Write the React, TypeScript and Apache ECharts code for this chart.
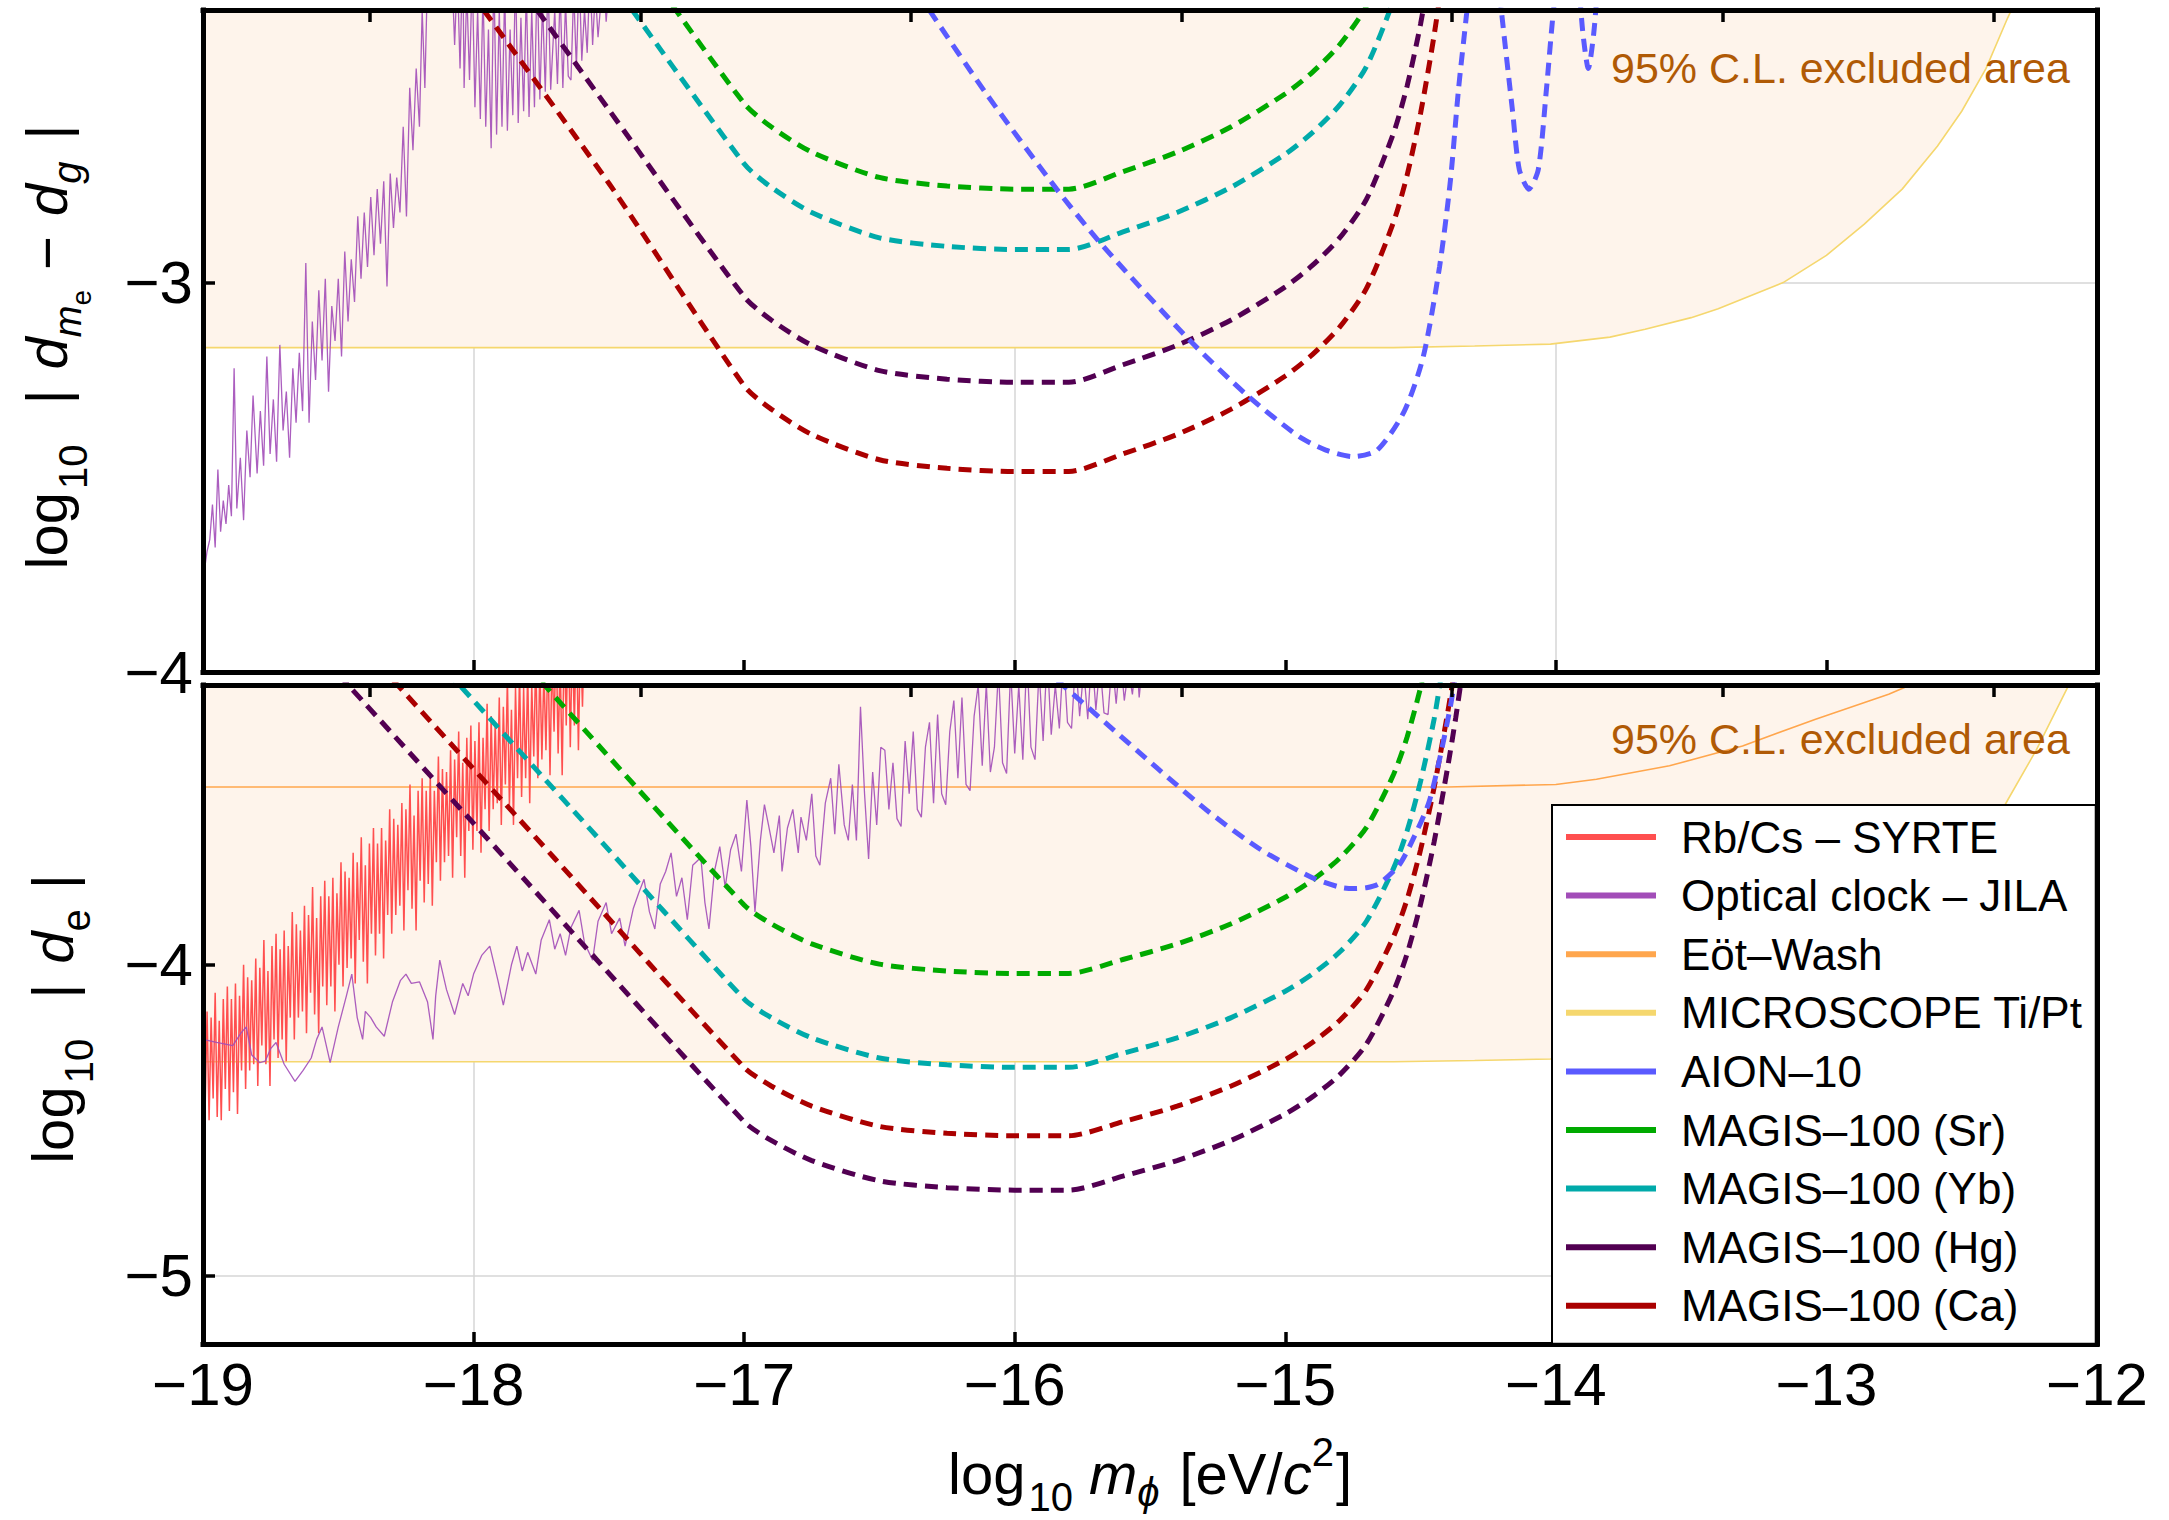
import React, { useEffect, useRef } from 'react';
import * as echarts from 'echarts';

const FONT = '"Liberation Sans", Arial, Helvetica, sans-serif';

// ---------- axes ----------
const X_RANGE: [number, number] = [-19, -12];
const TOP_Y_RANGE: [number, number] = [-4, -2.3];
const BOT_Y_RANGE: [number, number] = [-5.22, -3.1];
const TOP_Y_TICKS = [-4, -3];
const BOT_Y_TICKS = [-5, -4];
// ticks of the (unlabelled) frequency axis on the upper frame edges: integer log10 f[Hz]
const FREQ_TICKS = [-18.383, -17.383, -16.383, -15.383, -14.383, -13.383, -12.383];
const GRID_X_LINES = [-18, -16, -14];
const TOP_GRID_Y_LINES = [-3];
const BOT_GRID_Y_LINES = [-5];

// ---------- names ----------
const N_RBCS = 'Rb/Cs \u2013 SYRTE';
const N_JILA = 'Optical clock \u2013 JILA';
const N_EOT = 'E\u00f6t\u2013Wash';
const N_MIC = 'MICROSCOPE Ti/Pt';
const N_AION = 'AION\u201310';
const N_SR = 'MAGIS\u2013100 (Sr)';
const N_YB = 'MAGIS\u2013100 (Yb)';
const N_HG = 'MAGIS\u2013100 (Hg)';
const N_CA = 'MAGIS\u2013100 (Ca)';
const LEGEND_NAMES = [N_RBCS, N_JILA, N_EOT, N_MIC, N_AION, N_SR, N_YB, N_HG, N_CA];

const ANNOTATION = '95% C.L. excluded area';

// ---------- top panel data: log10 |d_me - d_g| ----------
const micTop: [number, number][] = [
  [-19, -3.167], [-14.6, -3.167], [-14.3, -3.163], [-14.02, -3.158], [-13.8, -3.14], [-13.67, -3.12],
  [-13.5, -3.09], [-13.4, -3.067], [-13.16, -3.0], [-13.0, -2.93], [-12.86, -2.85], [-12.72, -2.76],
  [-12.59, -2.65], [-12.5, -2.56], [-12.41, -2.45], [-12.33, -2.32], [-12.225, -2.165], [-12.11, -1.965], [-12.0, -1.78],
];

const jilaTop: [number, number][] = [
  [-19.00, -3.62], [-18.995, -3.74], [-18.985, -3.69], [-18.975, -3.66], [-18.965, -3.57], [-18.955, -3.68], [-18.945, -3.48],
  [-18.935, -3.64], [-18.925, -3.56], [-18.915, -3.62], [-18.905, -3.52], [-18.895, -3.60], [-18.885, -3.22], [-18.875, -3.58],
  [-18.862, -3.45], [-18.85, -3.61], [-18.838, -3.38], [-18.826, -3.50], [-18.815, -3.29], [-18.80, -3.49], [-18.788, -3.33],
  [-18.776, -3.47], [-18.764, -3.19], [-18.752, -3.44], [-18.74, -3.30], [-18.728, -3.46], [-18.716, -3.16], [-18.704, -3.38],
  [-18.692, -3.28], [-18.68, -3.45], [-18.668, -3.22], [-18.656, -3.36], [-18.644, -3.18], [-18.632, -3.33], [-18.62, -2.95],
  [-18.608, -3.36], [-18.596, -3.10], [-18.584, -3.25], [-18.572, -3.02], [-18.56, -3.20], [-18.548, -2.99], [-18.536, -3.28],
  [-18.524, -3.06], [-18.512, -3.15], [-18.50, -2.99], [-18.488, -3.19], [-18.476, -2.92], [-18.464, -3.10], [-18.452, -2.94],
  [-18.44, -3.05], [-18.428, -2.83], [-18.416, -2.99], [-18.404, -2.82], [-18.392, -2.96], [-18.38, -2.78], [-18.368, -2.93],
  [-18.356, -2.76], [-18.344, -2.90], [-18.332, -2.74], [-18.32, -3.01], [-18.308, -2.72], [-18.296, -2.86], [-18.284, -2.73],
  [-18.272, -2.82], [-18.26, -2.60], [-18.248, -2.83], [-18.236, -2.50], [-18.224, -2.66], [-18.212, -2.45], [-18.20, -2.60],
  [-18.19, -2.30], [-18.18, -2.50], [-18.17, -2.20], [-18.15, -2.10], [-18.10, -2.05], [-18.08, -2.20], [-18.07, -2.39],
  [-18.06, -2.20], [-18.05, -2.45], [-18.04, -2.15], [-18.035, -2.50], [-18.025, -2.25], [-18.015, -2.48], [-18.005, -2.20],
  [-17.995, -2.55], [-17.985, -2.30], [-17.975, -2.58], [-17.965, -2.25], [-17.955, -2.60], [-17.945, -2.35], [-17.935, -2.655],
  [-17.925, -2.20], [-17.915, -2.62], [-17.905, -2.30], [-17.895, -2.60], [-17.885, -2.25], [-17.875, -2.61], [-17.865, -2.35],
  [-17.855, -2.57], [-17.845, -2.20], [-17.835, -2.59], [-17.825, -2.32], [-17.815, -2.56], [-17.805, -2.25], [-17.795, -2.575],
  [-17.785, -2.30], [-17.775, -2.55], [-17.765, -2.20], [-17.755, -2.53], [-17.745, -2.28], [-17.735, -2.51], [-17.725, -2.22],
  [-17.715, -2.505], [-17.70, -2.30], [-17.69, -2.49], [-17.68, -2.25], [-17.67, -2.50], [-17.66, -2.28], [-17.65, -2.47],
  [-17.64, -2.48], [-17.63, -2.25], [-17.62, -2.45], [-17.61, -2.20], [-17.60, -2.43], [-17.59, -2.30], [-17.58, -2.41],
  [-17.57, -2.20], [-17.56, -2.39], [-17.55, -2.25], [-17.54, -2.37], [-17.52, -2.20], [-17.51, -2.33], [-17.49, -2.15], [-17.45, -2.10],
];

const aionTop: [number, number][] = [
  [-16.40, -2.21], [-16.316, -2.30], [-16.10, -2.52], [-15.845, -2.76], [-15.675, -2.905], [-15.355, -3.147], [-15.14, -3.29],
  [-14.95, -3.395], [-14.85, -3.43], [-14.75, -3.447], [-14.66, -3.43], [-14.56, -3.33], [-14.49, -3.19], [-14.43, -2.96],
  [-14.39, -2.74], [-14.36, -2.505], [-14.33, -2.31], [-14.30, -2.10], [-14.265, -1.95], [-14.23, -2.10], [-14.20, -2.31],
  [-14.16, -2.56], [-14.135, -2.71], [-14.10, -2.76], [-14.065, -2.71], [-14.035, -2.505], [-14.01, -2.31], [-13.96, -2.02],
  [-13.92, -2.20], [-13.90, -2.36], [-13.88, -2.45], [-13.86, -2.36], [-13.84, -2.20], [-13.80, -2.0],
];
const srTop: [number, number][] = [
  [-17.40, -2.156], [-17.0, -2.54], [-16.9, -2.60], [-16.75, -2.665], [-16.5, -2.73], [-16.25, -2.752], [-16.0, -2.76],
  [-15.8, -2.76], [-15.6, -2.715], [-15.4, -2.665], [-15.2, -2.60], [-15.0, -2.515], [-14.9, -2.46], [-14.8, -2.39],
  [-14.7, -2.29], [-14.6, -2.12],
];
const ybTop: [number, number][] = [
  [-17.55, -2.167], [-17.0, -2.695], [-16.9, -2.755], [-16.75, -2.82], [-16.5, -2.885], [-16.25, -2.907], [-16.0, -2.915],
  [-15.8, -2.915], [-15.6, -2.87], [-15.4, -2.82], [-15.2, -2.755], [-15.0, -2.67], [-14.9, -2.615], [-14.8, -2.545],
  [-14.7, -2.445], [-14.6, -2.275], [-14.55, -2.155],
];
const hgTop: [number, number][] = [
  [-17.90, -2.17], [-17.5, -2.556], [-17.0, -3.036], [-16.9, -3.096], [-16.75, -3.161], [-16.5, -3.226], [-16.25, -3.248],
  [-16.0, -3.256], [-15.8, -3.256], [-15.6, -3.211], [-15.4, -3.161], [-15.2, -3.096], [-15.0, -3.011], [-14.9, -2.956],
  [-14.8, -2.886], [-14.7, -2.786], [-14.6, -2.616], [-14.55, -2.496], [-14.5, -2.336], [-14.45, -2.136],
];
const caTop: [number, number][] = [
  [-18.10, -2.17], [-17.5, -2.745], [-17.0, -3.265], [-16.9, -3.325], [-16.75, -3.39], [-16.5, -3.455], [-16.25, -3.477],
  [-16.0, -3.485], [-15.8, -3.485], [-15.6, -3.44], [-15.4, -3.39], [-15.2, -3.325], [-15.0, -3.24], [-14.9, -3.185],
  [-14.8, -3.115], [-14.7, -3.015], [-14.6, -2.845], [-14.55, -2.725], [-14.5, -2.565], [-14.45, -2.365], [-14.4, -2.125],
];

// ---------- bottom panel data: log10 |d_e| ----------
const micBot: [number, number][] = [
  [-19, -4.312], [-14.6, -4.312], [-14.3, -4.308], [-14.02, -4.303], [-13.8, -4.285], [-13.67, -4.265], [-13.5, -4.235],
  [-13.4, -4.212], [-13.16, -4.145], [-13.0, -4.075], [-12.86, -3.995], [-12.72, -3.905], [-12.59, -3.795], [-12.5, -3.705],
  [-12.41, -3.595], [-12.33, -3.47], [-12.225, -3.31], [-12.11, -3.11], [-12.0, -2.93],
];
const eotBot: [number, number][] = [
  [-19, -3.428], [-14.4, -3.428], [-14.0, -3.42], [-13.85, -3.403], [-13.58, -3.36], [-13.31, -3.296], [-13.04, -3.21],
  [-12.77, -3.13], [-12.69, -3.10], [-12.6, -3.05],
];
const rbcsBot: [number, number][] = [
  [-19.0000, -4.22], [-18.9925, -4.48], [-18.985, -4.15], [-18.9775, -4.50], [-18.970, -4.17], [-18.9625, -4.43], [-18.955, -4.09],
  [-18.9475, -4.49], [-18.940, -4.18], [-18.9325, -4.50], [-18.925, -4.11], [-18.9175, -4.40], [-18.910, -4.07], [-18.9025, -4.47],
  [-18.895, -4.11], [-18.8875, -4.41], [-18.880, -4.06], [-18.8725, -4.48], [-18.865, -4.10], [-18.8575, -4.34], [-18.850, -4.00],
  [-18.8425, -4.40], [-18.835, -4.04], [-18.8275, -4.34], [-18.820, -4.05], [-18.8125, -4.32], [-18.805, -3.98], [-18.7975, -4.39],
  [-18.790, -4.01], [-18.7825, -4.26], [-18.775, -3.92], [-18.7675, -4.32], [-18.760, -4.02], [-18.7525, -4.39], [-18.745, -3.94],
  [-18.7375, -4.24], [-18.730, -3.90], [-18.7225, -4.30], [-18.715, -3.95], [-18.7075, -4.24], [-18.700, -3.89], [-18.6925, -4.31],
  [-18.685, -3.94], [-18.6775, -4.17], [-18.670, -3.83], [-18.6625, -4.24], [-18.655, -3.87], [-18.6475, -4.17], [-18.640, -3.89],
  [-18.6325, -4.15], [-18.625, -3.81], [-18.6175, -4.22], [-18.610, -3.84], [-18.6025, -4.09], [-18.595, -3.75], [-18.5875, -4.16],
  [-18.580, -3.85], [-18.5725, -4.22], [-18.565, -3.78], [-18.5575, -4.07], [-18.550, -3.73], [-18.5425, -4.13], [-18.535, -3.78],
  [-18.5275, -4.07], [-18.520, -3.72], [-18.5125, -4.15], [-18.505, -3.77], [-18.4975, -4.00], [-18.490, -3.67], [-18.4825, -4.07],
  [-18.475, -3.70], [-18.4675, -4.01], [-18.460, -3.72], [-18.4525, -3.98], [-18.445, -3.64], [-18.4375, -4.06], [-18.430, -3.67],
  [-18.4225, -3.92], [-18.415, -3.59], [-18.4075, -3.99], [-18.400, -3.68], [-18.3925, -4.06], [-18.385, -3.61], [-18.3775, -3.90],
  [-18.370, -3.56], [-18.3625, -3.97], [-18.355, -3.61], [-18.3475, -3.90], [-18.340, -3.56], [-18.3325, -3.98], [-18.325, -3.60],
  [-18.3175, -3.84], [-18.310, -3.50], [-18.3025, -3.90], [-18.295, -3.53], [-18.2875, -3.84], [-18.280, -3.55], [-18.2725, -3.81],
  [-18.265, -3.48], [-18.2575, -3.89], [-18.250, -3.50], [-18.2425, -3.76], [-18.235, -3.42], [-18.2275, -3.82], [-18.220, -3.52],
  [-18.2125, -3.89], [-18.205, -3.44], [-18.1975, -3.73], [-18.190, -3.40], [-18.1825, -3.80], [-18.175, -3.44], [-18.1675, -3.74],
  [-18.160, -3.39], [-18.1525, -3.81], [-18.145, -3.44], [-18.1375, -3.67], [-18.130, -3.33], [-18.1225, -3.73], [-18.115, -3.37],
  [-18.1075, -3.67], [-18.100, -3.38], [-18.0925, -3.65], [-18.085, -3.31], [-18.0775, -3.72], [-18.070, -3.34], [-18.0625, -3.59],
  [-18.055, -3.25], [-18.0475, -3.65], [-18.040, -3.35], [-18.0325, -3.72], [-18.025, -3.27], [-18.0175, -3.57], [-18.010, -3.23],
  [-18.0025, -3.63], [-17.995, -3.28], [-17.9875, -3.57], [-17.980, -3.22], [-17.9725, -3.64], [-17.965, -3.27], [-17.9575, -3.50],
  [-17.950, -3.16], [-17.9425, -3.57], [-17.935, -3.20], [-17.9275, -3.50], [-17.920, -3.22], [-17.9125, -3.48], [-17.905, -3.14],
  [-17.8975, -3.55], [-17.890, -3.17], [-17.8825, -3.42], [-17.875, -3.08], [-17.8675, -3.49], [-17.860, -3.18], [-17.8525, -3.55],
  [-17.845, -3.11], [-17.8375, -3.40], [-17.830, -3.06], [-17.8225, -3.46], [-17.815, -3.11], [-17.8075, -3.40], [-17.800, -3.05],
  [-17.7925, -3.48], [-17.785, -3.10], [-17.7775, -3.33], [-17.770, -3.00], [-17.7625, -3.40], [-17.755, -3.03], [-17.7475, -3.34],
  [-17.740, -3.05], [-17.7325, -3.31], [-17.725, -2.97], [-17.7175, -3.39], [-17.710, -3.00], [-17.7025, -3.25], [-17.695, -2.92],
  [-17.6875, -3.32], [-17.680, -3.01], [-17.6725, -3.39], [-17.665, -2.94], [-17.6575, -3.23], [-17.650, -2.89], [-17.6425, -3.30],
  [-17.635, -2.94], [-17.6275, -3.23], [-17.620, -2.89], [-17.6125, -3.31], [-17.605, -2.93], [-17.5975, -3.17], [-17.590, -2.90],
];
const jilaBot: [number, number][] = [
  [-19.00, -4.24], [-18.95, -4.25], [-18.89, -4.26], [-18.86, -4.22], [-18.84, -4.20], [-18.82, -4.29], [-18.79, -4.315],
  [-18.77, -4.31], [-18.75, -4.27], [-18.73, -4.25], [-18.70, -4.32], [-18.66, -4.375], [-18.63, -4.34], [-18.60, -4.30],
  [-18.58, -4.24], [-18.56, -4.20], [-18.53, -4.315], [-18.50, -4.20], [-18.47, -4.10], [-18.45, -4.03], [-18.43, -4.17],
  [-18.41, -4.24], [-18.40, -4.15], [-18.38, -4.17], [-18.36, -4.20], [-18.33, -4.23], [-18.30, -4.12], [-18.27, -4.05],
  [-18.25, -4.03], [-18.23, -4.06], [-18.20, -4.055], [-18.17, -4.12], [-18.15, -4.24], [-18.14, -4.10], [-18.125, -3.985],
  [-18.10, -4.08], [-18.07, -4.16], [-18.04, -4.06], [-18.02, -4.10], [-18.00, -4.03], [-17.97, -3.97], [-17.94, -3.94],
  [-17.91, -4.05], [-17.89, -4.13], [-17.86, -4.00], [-17.84, -3.94], [-17.82, -4.02], [-17.80, -3.96], [-17.77, -4.03],
  [-17.75, -3.92], [-17.72, -3.855], [-17.70, -3.95], [-17.68, -3.90], [-17.66, -3.97], [-17.64, -3.88], [-17.61, -3.825],
  [-17.59, -3.93], [-17.56, -3.985], [-17.54, -3.86], [-17.51, -3.80], [-17.49, -3.90], [-17.46, -3.85], [-17.44, -3.94],
  [-17.41, -3.82], [-17.39, -3.77], [-17.37, -3.725], [-17.35, -3.83], [-17.33, -3.885], [-17.31, -3.74], [-17.29, -3.70],
  [-17.27, -3.64], [-17.25, -3.78], [-17.23, -3.72], [-17.21, -3.855], [-17.19, -3.68], [-17.16, -3.655], [-17.145, -3.80],
  [-17.13, -3.885], [-17.11, -3.70], [-17.09, -3.62], [-17.07, -3.75], [-17.05, -3.63], [-17.03, -3.58], [-17.01, -3.70],
  [-16.99, -3.47], [-16.975, -3.62], [-16.96, -3.83], [-16.94, -3.60], [-16.925, -3.485], [-16.91, -3.55], [-16.89, -3.64],
  [-16.87, -3.52], [-16.86, -3.70], [-16.84, -3.56], [-16.82, -3.50], [-16.80, -3.64], [-16.79, -3.525], [-16.77, -3.60],
  [-16.75, -3.45], [-16.735, -3.65], [-16.72, -3.68], [-16.70, -3.48], [-16.68, -3.40], [-16.665, -3.58], [-16.65, -3.355],
  [-16.63, -3.55], [-16.615, -3.60], [-16.60, -3.42], [-16.585, -3.60], [-16.57, -3.17], [-16.555, -3.45], [-16.54, -3.66],
  [-16.525, -3.38], [-16.51, -3.55], [-16.495, -3.30], [-16.48, -3.31], [-16.465, -3.50], [-16.45, -3.35], [-16.435, -3.53],
  [-16.42, -3.555], [-16.405, -3.28], [-16.39, -3.45], [-16.375, -3.25], [-16.36, -3.50], [-16.345, -3.525], [-16.33, -3.30],
  [-16.315, -3.22], [-16.30, -3.48], [-16.285, -3.195], [-16.27, -3.45], [-16.255, -3.485], [-16.24, -3.25], [-16.225, -3.15],
  [-16.21, -3.40], [-16.195, -3.14], [-16.18, -3.42], [-16.165, -3.44], [-16.15, -3.20], [-16.135, -3.10], [-16.12, -3.36],
  [-16.105, -3.095], [-16.09, -3.38], [-16.075, -3.30], [-16.06, -3.05], [-16.045, -3.35], [-16.03, -3.385], [-16.015, -3.05],
  [-16.00, -3.32], [-15.985, -3.10], [-15.97, -3.34], [-15.955, -3.00], [-15.94, -3.30], [-15.925, -3.34], [-15.91, -3.05],
  [-15.895, -3.28], [-15.88, -3.00], [-15.865, -3.26], [-15.85, -3.10], [-15.835, -3.24], [-15.82, -3.00], [-15.805, -3.22],
  [-15.79, -3.24], [-15.775, -3.02], [-15.76, -3.20], [-15.745, -3.05], [-15.73, -3.21], [-15.715, -3.00], [-15.70, -3.18],
  [-15.685, -3.03], [-15.67, -3.19], [-15.655, -3.195], [-15.64, -3.02], [-15.625, -3.16], [-15.61, -3.00], [-15.595, -3.15],
  [-15.58, -3.05], [-15.565, -3.13], [-15.55, -3.00], [-15.54, -3.14], [-15.53, -3.05], [-15.52, -3.00],
];
const aionBot: [number, number][] = [
  [-15.90, -3.04], [-15.81, -3.11], [-15.66, -3.225], [-15.47, -3.37], [-15.28, -3.51], [-15.09, -3.63], [-14.90, -3.72],
  [-14.80, -3.75], [-14.75, -3.755], [-14.70, -3.752], [-14.655, -3.74], [-14.58, -3.68], [-14.53, -3.60], [-14.47, -3.48],
  [-14.43, -3.34], [-14.39, -3.17], [-14.375, -3.09], [-14.36, -3.0],
];
const srBot: [number, number][] = [
  [-17.80, -3.04], [-17.0, -3.808], [-16.9, -3.868], [-16.75, -3.933], [-16.5, -3.998], [-16.25, -4.02], [-16.0, -4.028],
  [-15.8, -4.028], [-15.6, -3.983], [-15.4, -3.933], [-15.2, -3.868], [-15.0, -3.783], [-14.9, -3.728], [-14.8, -3.658],
  [-14.7, -3.558], [-14.6, -3.388], [-14.55, -3.268], [-14.5, -3.108], [-14.45, -2.908],
];
const ybBot: [number, number][] = [
  [-18.15, -3.006], [-17.6, -3.534], [-17.0, -4.11], [-16.9, -4.17], [-16.75, -4.235], [-16.5, -4.30], [-16.25, -4.322],
  [-16.0, -4.33], [-15.8, -4.33], [-15.6, -4.285], [-15.4, -4.235], [-15.2, -4.17], [-15.0, -4.085], [-14.9, -4.03],
  [-14.8, -3.96], [-14.7, -3.86], [-14.6, -3.69], [-14.55, -3.57], [-14.5, -3.41], [-14.45, -3.21], [-14.42, -3.05],
];
const hgBot: [number, number][] = [
  [-18.55, -3.017], [-17.8, -3.737], [-17.0, -4.505], [-16.9, -4.565], [-16.75, -4.63], [-16.5, -4.695], [-16.25, -4.717],
  [-16.0, -4.725], [-15.8, -4.725], [-15.6, -4.68], [-15.4, -4.63], [-15.2, -4.565], [-15.0, -4.48], [-14.9, -4.425],
  [-14.8, -4.355], [-14.7, -4.255], [-14.6, -4.085], [-14.55, -3.965], [-14.5, -3.805], [-14.45, -3.605], [-14.4, -3.365],
  [-14.37, -3.205], [-14.34, -3.025],
];
const caBot: [number, number][] = [
  [-18.40, -2.986], [-17.7, -3.658], [-17.0, -4.33], [-16.9, -4.39], [-16.75, -4.455], [-16.5, -4.52], [-16.25, -4.542],
  [-16.0, -4.55], [-15.8, -4.55], [-15.6, -4.505], [-15.4, -4.455], [-15.2, -4.39], [-15.0, -4.305], [-14.9, -4.25],
  [-14.8, -4.18], [-14.7, -4.08], [-14.6, -3.91], [-14.55, -3.79], [-14.5, -3.63], [-14.45, -3.43], [-14.4, -3.19], [-14.37, -3.03],
];

// ---------- styles ----------
const C = {
  rbcs: '#FF4F4F',
  jila: '#A24DB8',
  eot: '#FFA64D',
  mic: '#F5D76E',
  aion: '#5A5AFF',
  sr: '#00AA00',
  yb: '#00AAAA',
  hg: '#520052',
  ca: '#AA0000',
  fill: '#FEF4EB',
  grid: '#D6D6D6',
  note: '#B05A05',
};

type Run = { t: string; size: number; italic?: boolean; dy?: number; gap?: number };

const TITLE_X: Run[] = [
  { t: 'log', size: 58 }, { t: '10', size: 40, dy: 17, gap: 3 },
  { t: 'm', size: 58, italic: true, gap: 16 }, { t: '\u03d5', size: 40, italic: true, dy: 12 },
  { t: '[eV/', size: 58, gap: 20 }, { t: 'c', size: 58, italic: true }, { t: '2', size: 40, dy: -28 }, { t: ']', size: 58, gap: 2 },
];
const TITLE_TOP: Run[] = [
  { t: 'log', size: 58 }, { t: '10', size: 40, dy: 20, gap: 3 },
  { t: '|', size: 58, gap: 40 }, { t: 'd', size: 58, italic: true, gap: 20 }, { t: 'm', size: 38, italic: true, dy: 14 },
  { t: 'e', size: 28, dy: 24 }, { t: '\u2212', size: 58, gap: 20 }, { t: 'd', size: 58, italic: true, gap: 20 },
  { t: 'g', size: 40, italic: true, dy: 14 }, { t: '|', size: 58, gap: 22 },
];
const TITLE_BOT: Run[] = [
  { t: 'log', size: 58 }, { t: '10', size: 40, dy: 20, gap: 3 },
  { t: '|', size: 58, gap: 40 }, { t: 'd', size: 58, italic: true, gap: 20 }, { t: 'e', size: 40, dy: 17 },
  { t: '|', size: 58, gap: 20 },
];

const fontOf = (size: number, italic?: boolean) => `${italic ? 'italic ' : ''}${size}px ${FONT}`;

function titleGroup(runs: Run[], x: number, y: number, rotation: number) {
  const ctx = document.createElement('canvas').getContext('2d') as CanvasRenderingContext2D;
  let pos = 0;
  const placed: { r: Run; at: number }[] = [];
  runs.forEach((r) => {
    pos += r.gap || 0;
    placed.push({ r, at: pos });
    ctx.font = fontOf(r.size, r.italic);
    pos += ctx.measureText(r.t).width;
  });
  const half = pos / 2;
  return {
    type: 'group',
    x,
    y,
    rotation,
    z: 30,
    children: placed.map(({ r, at }) => ({
      type: 'text',
      x: at - half,
      y: (r.dy || 0) - 0.35 * r.size,
      z: 30,
      style: {
        text: r.t,
        font: fontOf(r.size, r.italic),
        fill: '#000',
        textAlign: 'left',
        textVerticalAlign: 'middle',
        align: 'left',
        verticalAlign: 'middle',
      },
    })),
  };
}

const minusFmt = (v: number) => (v < 0 ? '\u2212' + String(Math.abs(v)) : String(v));

function buildOption() {
  const frameLine = { show: true, onZero: false, lineStyle: { color: '#000', width: 5, cap: 'square' } };
  const tick = { show: true, inside: true, length: 12, lineStyle: { color: '#000', width: 3.5 } };
  const labelStyle = { fontSize: 60, fontFamily: FONT, color: '#000' };

  const xAxisBase = { type: 'value', min: X_RANGE[0], max: X_RANGE[1], z: 10, splitLine: { show: false }, axisLine: frameLine };
  const xAxis = [
    { ...xAxisBase, gridIndex: 0, position: 'bottom', interval: 1, axisTick: tick, axisLabel: { show: false } },
    { ...xAxisBase, gridIndex: 0, position: 'top', axisTick: { ...tick, customValues: FREQ_TICKS }, axisLabel: { show: false } },
    {
      ...xAxisBase, gridIndex: 1, position: 'bottom', interval: 1, axisTick: tick,
      axisLabel: { ...labelStyle, show: true, margin: 10, formatter: minusFmt, showMinLabel: true, showMaxLabel: true },
    },
    { ...xAxisBase, gridIndex: 1, position: 'top', axisTick: { ...tick, customValues: FREQ_TICKS }, axisLabel: { show: false } },
  ];
  const yAxis = [
    {
      type: 'value', gridIndex: 0, position: 'left', min: TOP_Y_RANGE[0], max: TOP_Y_RANGE[1], z: 10,
      axisLine: frameLine, splitLine: { show: false }, axisTick: { ...tick, customValues: TOP_Y_TICKS },
      axisLabel: { ...labelStyle, margin: 10, customValues: TOP_Y_TICKS, formatter: minusFmt, showMinLabel: true, showMaxLabel: true },
    },
    {
      type: 'value', gridIndex: 0, position: 'right', min: TOP_Y_RANGE[0], max: TOP_Y_RANGE[1], z: 10,
      axisLine: frameLine, splitLine: { show: false }, axisTick: { show: false }, axisLabel: { show: false },
    },
    {
      type: 'value', gridIndex: 1, position: 'left', min: BOT_Y_RANGE[0], max: BOT_Y_RANGE[1], z: 10,
      axisLine: frameLine, splitLine: { show: false }, axisTick: { ...tick, customValues: BOT_Y_TICKS },
      axisLabel: { ...labelStyle, margin: 10, customValues: BOT_Y_TICKS, formatter: minusFmt, showMinLabel: true, showMaxLabel: true },
    },
    {
      type: 'value', gridIndex: 1, position: 'right', min: BOT_Y_RANGE[0], max: BOT_Y_RANGE[1], z: 10,
      axisLine: frameLine, splitLine: { show: false }, axisTick: { show: false }, axisLabel: { show: false },
    },
  ];

  const gridLines = (name: string, xi: number, yi: number, ys: number[]) => ({
    type: 'line', name, data: [], xAxisIndex: xi, yAxisIndex: yi, silent: true, z: 1,
    markLine: {
      silent: true, z: 1, symbol: ['none', 'none'], label: { show: false }, animation: false,
      lineStyle: { color: C.grid, width: 1.5, type: 'solid' },
      emphasis: { disabled: true },
      data: [...GRID_X_LINES.map((v) => ({ xAxis: v })), ...ys.map((v) => ({ yAxis: v }))],
    },
  });
  const bound = (name: string, data: [number, number][], color: string, xi: number, yi: number) => ({
    type: 'line', name, data, xAxisIndex: xi, yAxisIndex: yi, symbol: 'none', showSymbol: false, silent: true, z: 2,
    color, itemStyle: { color }, lineStyle: { color, width: 1.6 },
    areaStyle: { color: C.fill, opacity: 1, origin: 'end' },
  });
  const noise = (name: string, data: [number, number][], color: string, width: number, opacity: number, xi: number, yi: number) => ({
    type: 'line', name, data, xAxisIndex: xi, yAxisIndex: yi, symbol: 'none', showSymbol: false, silent: true, z: 3,
    color, itemStyle: { color }, lineStyle: { color, width, opacity },
  });
  const dashed = (name: string, data: [number, number][], color: string, xi: number, yi: number) => ({
    type: 'line', name, data, xAxisIndex: xi, yAxisIndex: yi, symbol: 'none', showSymbol: false, silent: true, z: 4,
    smooth: 0.25,
    color, itemStyle: { color }, lineStyle: { color, width: 5, type: [13, 8] },
  });

  const series = [
    gridLines('_gridTop', 0, 0, TOP_GRID_Y_LINES),
    bound(N_MIC, micTop, C.mic, 0, 0),
    noise(N_JILA, jilaTop, C.jila, 1.3, 0.9, 0, 0),
    dashed(N_CA, caTop, C.ca, 0, 0),
    dashed(N_HG, hgTop, C.hg, 0, 0),
    dashed(N_YB, ybTop, C.yb, 0, 0),
    dashed(N_SR, srTop, C.sr, 0, 0),
    dashed(N_AION, aionTop, C.aion, 0, 0),

    gridLines('_gridBot', 2, 2, BOT_GRID_Y_LINES),
    bound(N_MIC, micBot, C.mic, 2, 2),
    bound(N_EOT, eotBot, C.eot, 2, 2),
    noise(N_RBCS, rbcsBot, C.rbcs, 1.5, 1, 2, 2),
    noise(N_JILA, jilaBot, C.jila, 1.3, 0.9, 2, 2),
    dashed(N_HG, hgBot, C.hg, 2, 2),
    dashed(N_CA, caBot, C.ca, 2, 2),
    dashed(N_YB, ybBot, C.yb, 2, 2),
    dashed(N_SR, srBot, C.sr, 2, 2),
    dashed(N_AION, aionBot, C.aion, 2, 2),
  ];

  const note = (y: number) => ({
    type: 'text', x: 1611, y, z: 30,
    style: {
      text: ANNOTATION, font: fontOf(43), fill: C.note,
      textAlign: 'left', textVerticalAlign: 'middle', align: 'left', verticalAlign: 'middle',
    },
  });

  return {
    animation: false,
    backgroundColor: '#fff',
    textStyle: { fontFamily: FONT },
    grid: [
      { left: 203, top: 10, width: 1894, height: 662, show: false },
      { left: 203, top: 685, width: 1894, height: 659, show: false },
    ],
    xAxis,
    yAxis,
    legend: {
      data: LEGEND_NAMES,
      orient: 'vertical',
      left: 1552,
      top: 805,
      z: 12,
      icon: 'rect',
      itemWidth: 90,
      itemHeight: 6,
      itemGap: 14.6,
      selectedMode: false,
      backgroundColor: '#fff',
      borderColor: '#000',
      borderWidth: 2,
      padding: [10, 13, 16, 14],
      textStyle: { fontSize: 44, lineHeight: 44, fontFamily: FONT, color: '#000', padding: [0, 0, 0, 20] },
    },
    graphic: [
      note(68),
      note(739),
      titleGroup(TITLE_X, 1150, 1494, 0),
      titleGroup(TITLE_TOP, 67, 347, Math.PI / 2),
      titleGroup(TITLE_BOT, 73, 1019, Math.PI / 2),
    ],
    series,
  };
}

export default function App() {
  const ref = useRef<HTMLDivElement>(null);
  useEffect(() => {
    if (!ref.current) return;
    const chart = echarts.init(ref.current, null, { renderer: 'svg' });
    chart.setOption(buildOption() as any);
    return () => chart.dispose();
  }, []);
  return (
    <div
      ref={ref}
      style={{ position: 'absolute', left: 0, top: 0, width: 2169, height: 1520, background: '#fff' }}
    />
  );
}
